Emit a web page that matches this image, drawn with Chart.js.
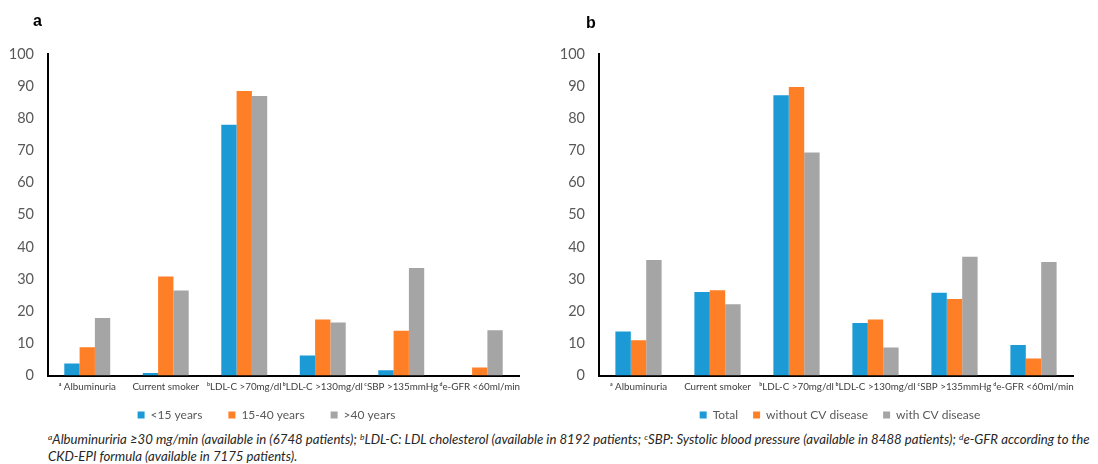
<!DOCTYPE html>
<html>
<head>
<meta charset="utf-8">
<script src="https://cdn.jsdelivr.net/npm/chart.js@4/dist/chart.umd.min.js"></script>
<style>
  html, body { margin:0; padding:0; background:#fff; }
  body { width:1098px; height:464px; position:relative; overflow:hidden; }
  .panel { position:absolute; top:0; width:549px; height:430px; }
  .ptitle { position:absolute; font:bold 16px "Liberation Sans", Arial, sans-serif; color:#000; }
  .foot { position:absolute; left:48px; font:italic 12.5px Lato, "Liberation Sans", sans-serif; color:#262626; white-space:nowrap; transform-origin:0 50%; line-height:14px; }
  .foot sup { font-size:8px; vertical-align:4px; line-height:0; }
</style>
</head>
<body>
<div class="panel" style="left:0"><canvas id="ca" width="549" height="430"></canvas></div>
<div class="panel" style="left:549px"><canvas id="cb" width="549" height="430"></canvas></div>
<div class="ptitle" style="left:33px;top:12px">a</div>
<div class="ptitle" style="left:586px;top:14px">b</div>
<div class="foot" id="f1" style="top:433px"><sup>a</sup>Albuminuriria ≥30 mg/min (available in (6748 patients); <sup>b</sup>LDL-C: LDL cholesterol (available in 8192 patients; <sup>c</sup>SBP: Systolic blood pressure (available in 8488 patients); <sup>d</sup>e-GFR according to the</div>
<div class="foot" id="f2" style="top:450px">CKD-EPI formula (available in 7175 patients).</div>
<script>
const categories = ['ᵃ Albuminuria', 'Current smoker', 'ᵇLDL-C >70mg/dl', 'ᵇLDL-C >130mg/dl', 'ᶜSBP >135mmHg', 'ᵈe-GFR <60ml/min'];

// Panel a
const under15 = [3.7, 0.8, 78.0, 6.2, 1.6, 0];
const age15to40 = [8.8, 30.8, 88.5, 17.4, 13.9, 2.5];
const over40 = [17.9, 26.4, 86.9, 16.5, 33.4, 14.1];
const seriesA = ['<15 years', '15-40 years', '>40 years'];

// Panel b
const total = [13.7, 26.0, 87.2, 16.3, 25.7, 9.5];
const withoutCV = [11.0, 26.5, 89.7, 17.4, 23.8, 5.3];
const withCV = [35.9, 22.2, 69.4, 8.7, 36.9, 35.3];
const seriesB = ['Total', 'without CV disease', 'with CV disease'];

const yTicks = [0, 10, 20, 30, 40, 50, 60, 70, 80, 90, 100];

const colors = ['#1B9AD6', '#FF7F27', '#A5A5A5'];

const LEGEND_FONT = 12;

function legendPlacer(legendPad, centerY, dx) {
  return {
    id: 'legendPlacer',
    beforeLayout(chart) {
      const L = chart.legend;
      if (L && !L._wrapped) {
        const orig = L.fit;
        L.fit = function () { orig.call(this); this.height = 30; };
        L._wrapped = true;
      }
    },
    afterLayout(chart) {
      const L = chart.legend;
      const itemH = Math.max(7, LEGEND_FONT);
      L.top = centerY - itemH / 2 - legendPad;
      L.bottom = centerY + itemH / 2 + legendPad;
      L.height = L.bottom - L.top;
      L.left += dx; L.right += dx;
    }
  };
}

function makeChart(id, names, data, yWidth, rightPad, legendPad, dx) {
  return new Chart(document.getElementById(id), {
    type: 'bar',
    data: {
      labels: categories,
      datasets: data.map((d, i) => ({
        label: names[i],
        data: d,
        backgroundColor: colors[i],
        borderWidth: 0,
        categoryPercentage: 0.585,
        barPercentage: 1.0
      }))
    },
    plugins: [legendPlacer(legendPad, 415, dx)],
    options: {
      responsive: false,
      animation: false,
      devicePixelRatio: 1,
      layout: { padding: { top: 54, left: 0, right: rightPad, bottom: 0.5 } },
      plugins: {
        tooltip: { enabled: false },
        legend: {
          position: 'bottom',
          labels: {
            boxWidth: 7, boxHeight: 7, padding: legendPad,
            color: '#595959',
            font: { family: 'Lato, "Liberation Sans", sans-serif', size: LEGEND_FONT }
          }
        }
      },
      scales: {
        y: {
          min: 0, max: 100,
          afterBuildTicks: (s) => { s.ticks = yTicks.map(v => ({ value: v })); },
          afterFit: (s) => { s.width = yWidth; },
          grid: { display: false, drawTicks: false },
          border: { display: true, color: '#000', width: 2 },
          ticks: {
            padding: 14,
            color: '#595959',
            font: { family: 'Lato, "Liberation Sans", sans-serif', size: 14.5 }
          }
        },
        x: {
          afterFit: (s) => { s.height = 24; s.paddingLeft = 0; s.paddingRight = 0; },
          grid: { display: false, drawTicks: false },
          border: { display: true, color: '#000', width: 2 },
          ticks: {
            padding: 5,
            maxRotation: 0, minRotation: 0, autoSkip: false,
            color: '#404040',
            font: { family: 'Lato, "Liberation Sans", sans-serif', size: 9.8 }
          }
        }
      }
    }
  });
}

makeChart('ca', seriesA, [under15, age15to40, over40], 48, 30, 26, 7);
makeChart('cb', seriesB, [total, withoutCV, withCV], 50, 25, 15, 29);

// fit footnote line to reference width
const f1 = document.getElementById('f1');
const f2 = document.getElementById('f2');
const k = 1042 / f1.scrollWidth;
f1.style.transform = 'scaleX(' + k + ')';
f2.style.transform = 'scaleX(' + k + ')';
</script>
</body>
</html>
